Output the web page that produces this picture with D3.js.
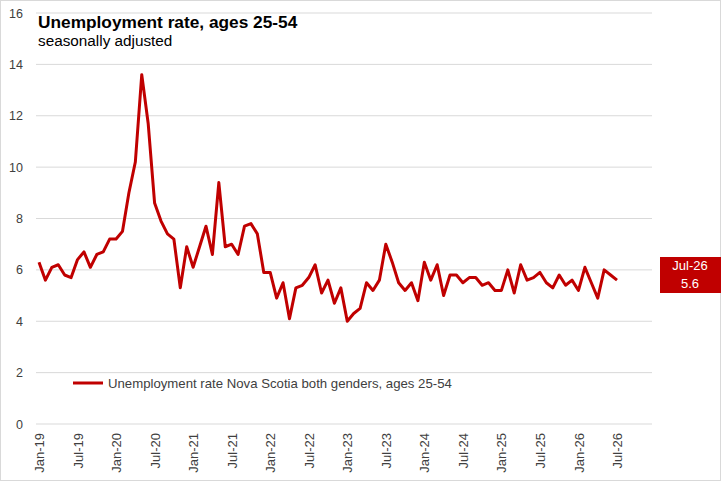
<!DOCTYPE html>
<html><head><meta charset="utf-8">
<script src="https://cdn.jsdelivr.net/npm/d3@7"></script>
<style>
html,body{margin:0;padding:0;background:#fff;}
svg{display:block;font-family:"Liberation Sans",Arial,sans-serif;}
</style></head>
<body>
<svg id="chart" width="721" height="481"></svg>
<script>
const title = "Unemployment rate, ages 25-54";
const subtitle = "seasonally adjusted";
const seriesName = "Unemployment rate Nova Scotia both genders, ages 25-54";
const startMonth = "2019-01";
const values = [
  6.3,5.6,6.1,6.2,5.8,5.7,6.4,6.7,6.1,6.6,6.7,7.2,
  7.2,7.5,9.0,10.2,13.6,11.7,8.6,7.9,7.4,7.2,5.3,6.9,
  6.1,6.9,7.7,6.6,9.4,6.9,7.0,6.6,7.7,7.8,7.4,5.9,
  5.9,4.9,5.5,4.1,5.3,5.4,5.7,6.2,5.1,5.6,4.7,5.3,
  4.0,4.3,4.5,5.5,5.2,5.6,7.0,6.3,5.5,5.2,5.5,4.8,
  6.3,5.6,6.2,5.0,5.8,5.8,5.5,5.7,5.7,5.4,5.5,5.2,
  5.2,6.0,5.1,6.2,5.6,5.7,5.9,5.5,5.3,5.8,5.4,5.6,
  5.2,6.1,5.5,4.9,6.0,5.8,5.6
];
const xTickLabels = ["Jan-19","Jul-19","Jan-20","Jul-20","Jan-21","Jul-21","Jan-22","Jul-22",
  "Jan-23","Jul-23","Jan-24","Jul-24","Jan-25","Jul-25","Jan-26","Jul-26"];
const yTicks = [0,2,4,6,8,10,12,14,16];
const lastLabel = "Jul-26";

const fmt = d3.timeFormat("%b-%y");
const start = d3.timeParse("%Y-%m")(startMonth);
const months = values.map((v,i)=>fmt(d3.timeMonth.offset(start,i)));
const data = values.map((v,i)=>({m:months[i], v}));

const svg = d3.select("#chart");
const W = 721, H = 481;
const red = "#c00000";

svg.append("rect").attr("x",0.5).attr("y",0.5).attr("width",W-1).attr("height",H-1)
  .attr("fill","#fff").attr("stroke","#d9d9d9");

const x = d3.scalePoint().domain(months).range([39, 617]);
const y = d3.scaleLinear().domain([0,16]).range([424, 13]);

// gridlines
svg.append("g").selectAll("line").data(yTicks).join("line")
  .attr("x1",36).attr("x2",652)
  .attr("y1",d=>y(d)).attr("y2",d=>y(d))
  .attr("stroke","#d9d9d9").attr("stroke-width",1);

// y axis labels
const yAxis = d3.axisLeft(y).tickValues(yTicks).tickSize(0).tickPadding(0);
const gy = svg.append("g").attr("transform","translate(23,0)").call(yAxis);
gy.select(".domain").remove();
gy.selectAll("text").attr("font-size",12.5).attr("fill","#404040")
  .attr("font-family",'"Liberation Sans",Arial,sans-serif');

// x axis labels
const xAxis = d3.axisBottom(x).tickValues(xTickLabels).tickSize(0);
const gx = svg.append("g").attr("transform","translate(0,433)").call(xAxis);
gx.select(".domain").remove();
gx.selectAll("text").attr("font-size",13).attr("fill","#404040")
  .attr("font-family",'"Liberation Sans",Arial,sans-serif')
  .attr("text-anchor","end").attr("dy","0.35em")
  .attr("transform","rotate(-90)").attr("x",0).attr("y",0);

// line
const line = d3.line().x(d=>x(d.m)).y(d=>y(d.v));
svg.append("path").datum(data).attr("d",line)
  .attr("fill","none").attr("stroke",red).attr("stroke-width",3)
  .attr("stroke-linejoin","round");

// title
svg.append("text").attr("x",38).attr("y",28).text(title)
  .attr("font-size",17.3).attr("font-weight","bold").attr("fill","#000");
svg.append("text").attr("x",38).attr("y",46).text(subtitle)
  .attr("font-size",15.3).attr("fill","#000");

// legend
svg.append("line").attr("x1",73).attr("x2",103).attr("y1",383).attr("y2",383)
  .attr("stroke",red).attr("stroke-width",3);
svg.append("text").attr("x",108).attr("y",387.5).text(seriesName)
  .attr("font-size",13.2).attr("fill","#404040");

// last value label
const last = data[data.length-1];
svg.append("rect").attr("x",660).attr("y",257).attr("width",61).attr("height",36).attr("fill",red);
svg.append("text").attr("x",690).attr("y",270).attr("text-anchor","middle")
  .attr("font-size",13).attr("fill","#fff").text(lastLabel);
svg.append("text").attr("x",690).attr("y",288).attr("text-anchor","middle")
  .attr("font-size",13).attr("fill","#fff").text(d3.format(".1f")(last.v));
</script>
</body></html>
